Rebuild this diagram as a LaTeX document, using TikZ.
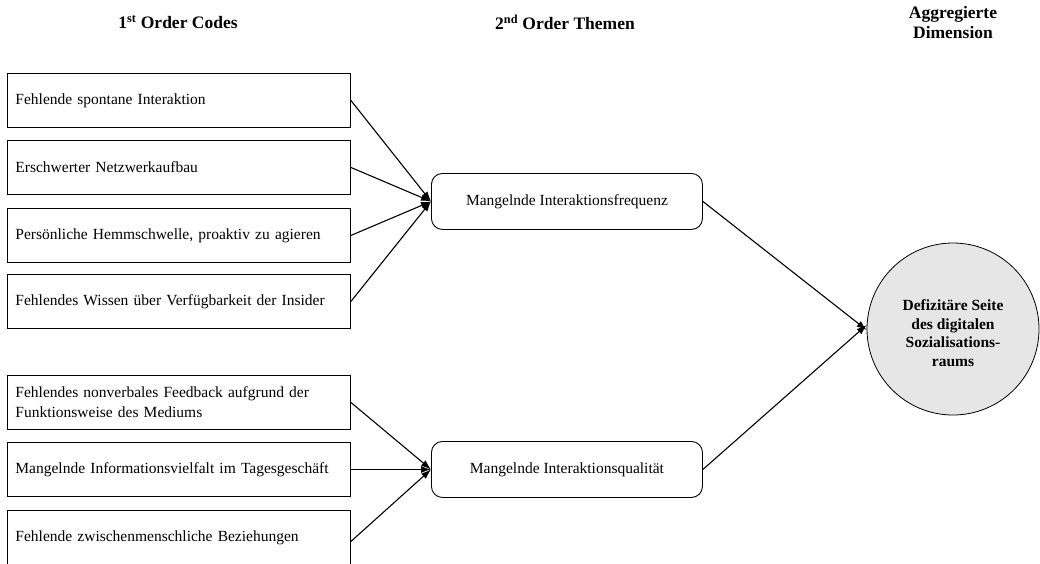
\documentclass[tikz,border=0pt]{standalone}
\usepackage{fontspec}
\setmainfont{Liberation Serif}
\usetikzlibrary{arrows.meta}
\definecolor{circfill}{HTML}{E7E6E6}
\tikzset{
  codebox/.style={draw, line width=0.9pt, anchor=north west, minimum width=343pt, minimum height=54pt,
    text width=327pt, inner xsep=8pt, align=left, font=\fontsize{15.5}{20}\selectfont},
  themebox/.style={draw, line width=0.9pt, rounded corners=11pt, anchor=north west, minimum width=271pt,
    minimum height=56pt, font=\fontsize{15.5}{18}\selectfont},
  dimcircle/.style={draw, line width=0.8pt, circle, fill=circfill, minimum size=172pt},
  dimtext/.style={align=center, font=\bfseries\fontsize{15.5}{18.5}\selectfont},
  header/.style={align=center, font=\bfseries\fontsize{17.5}{20}\selectfont},
  link/.style={line width=1.1pt, -{Latex[length=10pt,width=7pt]}},
}
\begin{document}
\begin{tikzpicture}[x=1pt,y=-1pt]
\useasboundingbox (0,0) rectangle (1040,563);
% headers
\node[header] (h1) at (178,22) {1\textsuperscript{st} Order Codes};
\node[header] (h2) at (565,22) {2\textsuperscript{nd} Order Themen};
\node[header] (h3) at (953,23) {Aggregierte\\Dimension};
% first order codes
\node[codebox] (c1) at (7,73) {Fehlende spontane Interaktion};
\node[codebox] (c2) at (7,140) {Erschwerter Netzwerkaufbau};
\node[codebox] (c3) at (7,208) {Persönliche Hemmschwelle, proaktiv zu agieren};
\node[codebox] (c4) at (7,274) {Fehlendes Wissen über Verfügbarkeit der Insider};
\node[codebox] (c5) at (7,375) {Fehlendes nonverbales Feedback aufgrund der\\Funktionsweise des Mediums};
\node[codebox] (c6) at (7,442) {Mangelnde Informationsvielfalt im Tagesgeschäft};
\node[codebox] (c7) at (7,510) {Fehlende zwischenmenschliche Beziehungen};
% second order themes
\node[themebox] (t1) at (431,173) {Mangelnde Interaktionsfrequenz};
\node[themebox] (t2) at (431,441) {Mangelnde Interaktionsqualität};
% aggregate dimension
\node[dimcircle] (d) at (953,329) {};
\node[dimtext] (dt) at ([yshift=-4pt]d.center) {Defizitäre Seite\\des digitalen\\Sozialisations-\\raums};
% connectors
\foreach \c in {c1,c2,c3,c4} \draw[link] (\c.east) -- (t1.west);
\foreach \c in {c5,c6} \draw[link] (\c.east) -- (t2.west);
\draw[link] ([yshift=-4pt]c7.east) -- (t2.west);
\draw[link] (t1.east) -- ([yshift=-1pt]d.west);
\draw[link] (t2.east) -- ([yshift=4pt]d.west);
\end{tikzpicture}
\end{document}
